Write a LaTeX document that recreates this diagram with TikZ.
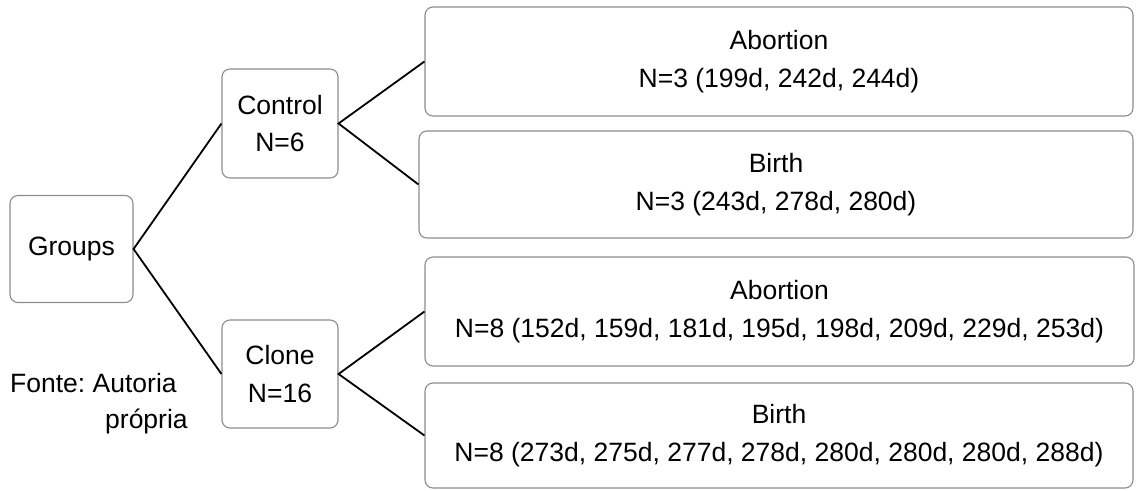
\documentclass[tikz,border=0pt]{standalone}
\usepackage{fontspec}
\setmainfont{Liberation Sans}
\frenchspacing
\begin{document}
\begin{tikzpicture}[x=1pt,y=1pt,
  box/.style={draw=black!45,line width=1.1pt,rounded corners=8pt,inner sep=0pt,
    align=center,text=black,font=\fontsize{26.5}{37.5}\selectfont},
  link/.style={line width=1.8pt,black},
  note/.style={inner sep=0pt,anchor=base west,font=\fontsize{26.5}{30}\selectfont,text=black}]
\useasboundingbox (0,0) rectangle (1139,-490);
\node[box,minimum width=123,minimum height=107] (groups) at (71.5,-249) {Groups};
\node[box,minimum width=116,minimum height=109] (control) at (280,-123.5) {Control\\N=6};
\node[box,minimum width=116,minimum height=108] (clone) at (280,-374) {Clone\\N=16};
\node[box,minimum width=708,minimum height=109] (ab1) at (779,-61.5) {Abortion\\N=3 (199d, 242d, 244d)};
\node[box,minimum width=714,minimum height=107] (bi1) at (776,-184.5) {Birth\\N=3 (243d, 278d, 280d)};
\node[box,minimum width=709,minimum height=109] (ab2) at (779.5,-311.5) {Abortion\\N=8 (152d, 159d, 181d, 195d, 198d, 209d, 229d, 253d)};
\node[box,minimum width=708,minimum height=105] (bi2) at (779,-435.5) {Birth\\N=8 (273d, 275d, 277d, 278d, 280d, 280d, 280d, 288d)};
\node[note] (fonte1) at (10,-392) {Fonte: Autoria};
\node[note] (fonte2) at (105,-428) {própria};
\draw[link] (control.west) -- (groups.east) -- (clone.west);
\draw[link] (ab1.west) -- (control.east) -- (bi1.west);
\draw[link] (ab2.west) -- (clone.east) -- (bi2.west);
\end{tikzpicture}
\end{document}
